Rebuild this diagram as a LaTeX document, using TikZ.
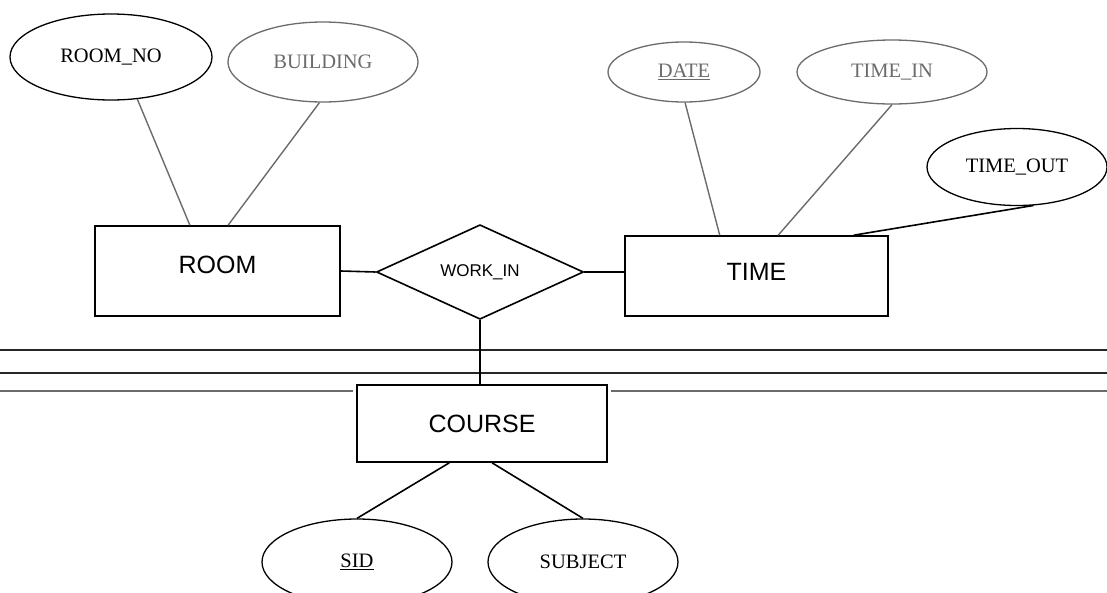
\documentclass[tikz,border=0pt]{standalone}
\usepackage{fontspec}
\setmainfont{Liberation Serif}
\newfontfamily\entfont{Liberation Sans}
\usetikzlibrary{shapes.geometric,calc}
\definecolor{scan}{gray}{0.42}
\begin{document}
\begin{tikzpicture}[x=1pt,y=-1pt,
  attr/.style={ellipse,draw,line width=1.3pt,inner sep=0pt,
    minimum width=190pt,minimum height=86pt,
    font=\fontsize{20.5}{22}\selectfont},
  faded/.style={draw=scan,text=scan},
  entity/.style={rectangle,draw,line width=1.6pt,inner sep=0pt,
    font=\entfont\fontsize{25}{27}\selectfont},
  rel/.style={diamond,draw,line width=1.6pt,inner sep=0pt,
    minimum width=207pt,minimum height=85pt,
    font=\entfont\fontsize{17}{19}\selectfont},
  link/.style={line width=1.6pt},
  fadedlink/.style={line width=1.4pt,draw=scan},
  rule/.style={line width=1.2pt,draw=black!85}
]
\useasboundingbox (0,0) rectangle (1107,592);

% page rules
\draw[rule] (0,350) -- (1107,350);
\draw[rule] (0,373) -- (1107,373);
\draw[rule,draw=scan,line width=1.6pt] (0,391) -- (353,391);
\draw[rule,draw=scan,line width=1.6pt] (611,391) -- (1107,391);

% entities and relationship
\node[entity,minimum width=245pt,minimum height=90pt,text depth=12pt] (room) at (217.5,271) {ROOM};
\node[rel] (workin) at (480,272) {WORK\_IN};
\node[entity,minimum width=263pt,minimum height=80pt,text depth=8pt] (time) at (756.5,276) {TIME};
\node[entity,minimum width=250pt,minimum height=77pt] (course) at (482,423.5) {COURSE};

% attributes
\node[attr,minimum width=202pt,minimum height=86pt] (roomno) at (111,57) {ROOM\_NO};
\node[attr,faded,minimum width=190pt,minimum height=80pt] (building) at (323,62) {BUILDING};
\node[attr,faded,minimum width=152pt,minimum height=60pt] (date) at (684,72) {\underline{DATE}};
\node[attr,faded,minimum width=190pt,minimum height=64pt] (timein) at (892,72) {TIME\_IN};
\node[attr,minimum width=180pt,minimum height=77pt] (timeout) at (1017,167) {TIME\_OUT};
\node[attr] (sid) at (357,562) {\underline{SID}};
\node[attr] (subject) at (583,562) {SUBJECT};

% attribute links
\draw[fadedlink] (roomno.-58) -- ($(room.north west)!0.388!(room.north east)$);
\draw[fadedlink] (building.-95) -- ($(room.north west)!0.543!(room.north east)$);
\draw[fadedlink] (date.-88) -- ($(time.north west)!0.361!(time.north east)$);
\draw[fadedlink] (timein.south) -- ($(time.north west)!0.582!(time.north east)$);
\draw[link] (timeout.-67) -- ($(time.north west)!0.867!(time.north east)$);
\draw[link] ($(course.south west)!0.37!(course.south east)$) -- (sid.north);
\draw[link] ($(course.south west)!0.54!(course.south east)$) -- (subject.north);

% relationship links
\draw[link] (room.east) -- (workin.west);
\draw[link] (workin.east) -- (workin.east -| time.west);
\draw[link] (workin.south) -- (workin.south |- course.north);
\end{tikzpicture}
\end{document}
